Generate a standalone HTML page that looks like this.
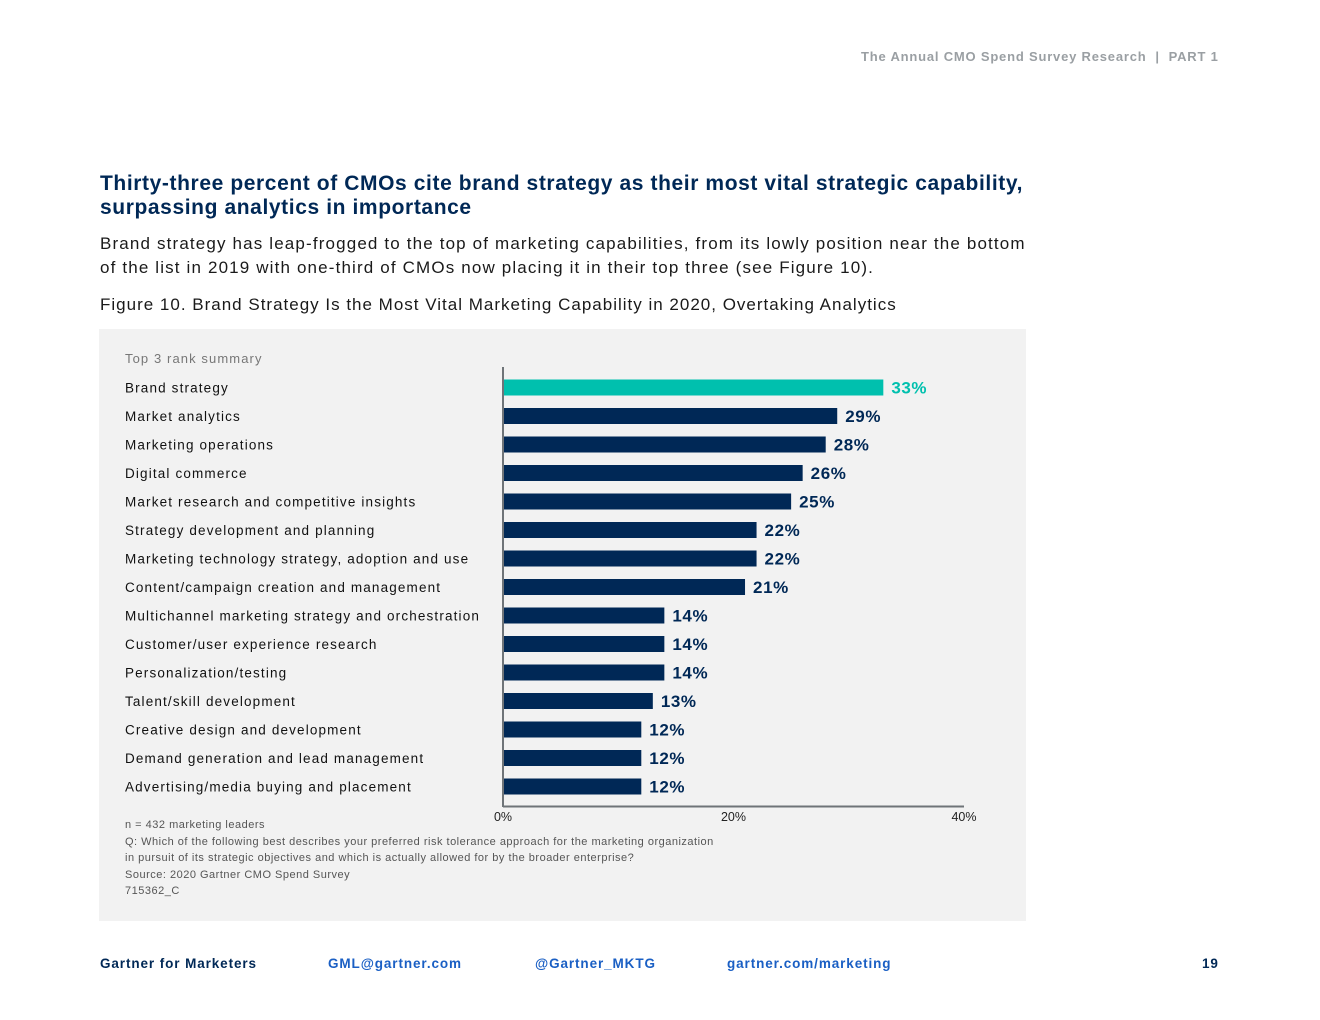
<!DOCTYPE html>
<html><head><meta charset="utf-8"><style>
body{margin:0;width:1320px;height:1020px;background:#fff;font-family:"Liberation Sans",sans-serif;position:relative;overflow:hidden}
.a{position:absolute;white-space:nowrap}
.f{font-size:13.5px;font-weight:bold;letter-spacing:0.9px;top:956px}
</style></head><body>
<div class="a" style="left:861px;top:49px;font-size:13px;color:#9a9fa3;letter-spacing:0.8px;font-weight:bold">The Annual CMO Spend Survey Research &nbsp;|&nbsp; PART 1</div>
<div class="a" style="left:100px;top:172px;font-size:21px;font-weight:bold;color:#002856;line-height:24px;letter-spacing:0.6px">Thirty-three percent of CMOs cite brand strategy as their most vital strategic capability,<br>surpassing analytics in importance</div>
<div class="a" style="left:100px;top:232px;font-size:17px;color:#1a1a1a;line-height:24px;letter-spacing:1.15px">Brand strategy has leap-frogged to the top of marketing capabilities, from its lowly position near the bottom<br>of the list in 2019 with one-third of CMOs now placing it in their top three (see Figure 10).</div>
<div class="a" style="left:100px;top:295px;font-size:17px;color:#1a1a1a;letter-spacing:1.0px">Figure 10. Brand Strategy Is the Most Vital Marketing Capability in 2020, Overtaking Analytics</div>
<div class="a" style="left:99px;top:329px;width:927px;height:592px;background:#f2f2f2"></div>
<svg class="a" style="left:0;top:0" width="1320" height="1020" id="chart"></svg>
<div class="a" style="left:125px;top:817px;font-size:11px;color:#555;line-height:16.5px;letter-spacing:0.5px">n = 432 marketing leaders<br>Q: Which of the following best describes your preferred risk tolerance approach for the marketing organization<br>in pursuit of its strategic objectives and which is actually allowed for by the broader enterprise?<br>Source: 2020 Gartner CMO Spend Survey<br>715362_C</div>
<div class="a f" style="left:100px;color:#002856">Gartner for Marketers</div>
<div class="a f" style="left:328px;color:#1a5fc4">GML@gartner.com</div>
<div class="a f" style="left:535px;color:#1a5fc4">@Gartner_MKTG</div>
<div class="a f" style="left:727px;color:#1a5fc4">gartner.com/marketing</div>
<div class="a f" style="left:1202px;color:#002856">19</div>
<script>
const categories=["Brand strategy","Market analytics","Marketing operations","Digital commerce","Market research and competitive insights","Strategy development and planning","Marketing technology strategy, adoption and use","Content/campaign creation and management","Multichannel marketing strategy and orchestration","Customer/user experience research","Personalization/testing","Talent/skill development","Creative design and development","Demand generation and lead management","Advertising/media buying and placement"];
const values=[33,29,28,26,25,22,22,21,14,14,14,13,12,12,12];
const ticks=[0,20,40];
const NS="http://www.w3.org/2000/svg";
const svg=document.getElementById('chart');
const x0=503,x1=964,xmax=40;
const xs=v=>x0+(v/xmax)*(x1-x0);
const y0=387.5,step=28.5;
const ys=i=>y0+i*step;
function mk(t,a){const e=document.createElementNS(NS,t);for(const k in a)e.setAttribute(k,a[k]);svg.appendChild(e);return e;}
let e=mk('text',{x:125,y:363,'font-size':13,fill:'#777','letter-spacing':1.1,'font-family':'Liberation Sans, sans-serif'});e.textContent='Top 3 rank summary';


categories.forEach((c,i)=>{
  const y=ys(i);
  const l=mk('text',{x:125,y:y+5,'font-size':13.5,fill:'#111','letter-spacing':1.15,'font-family':'Liberation Sans, sans-serif'});l.textContent=c;
  
  
  const col=i===0?'#00c0ae':'#002856';
  const b=mk('rect',{x:xs(0),y:y-8,width:xs(values[i])-xs(0),height:16,fill:col});
  
  
  const v=mk('text',{x:xs(values[i])+8,y:y+6,'font-size':17,'letter-spacing':0.6,'font-weight':'bold',fill:col,'font-family':'Liberation Sans, sans-serif'});v.textContent=values[i]+'%';
  
  
});
let ax=mk('line',{x1:x0,y1:367,x2:x0,y2:807,stroke:'#6f7478','stroke-width':2});


ax=mk('line',{x1:x0,y1:806.5,x2:x1,y2:806.5,stroke:'#6f7478','stroke-width':2});


ticks.forEach(t=>{
  const tl=mk('text',{x:xs(t),y:821,'font-size':12.5,fill:'#222','text-anchor':'middle','font-family':'Liberation Sans, sans-serif'});tl.textContent=t+'%';
  
  
});
</script>
</body></html>
